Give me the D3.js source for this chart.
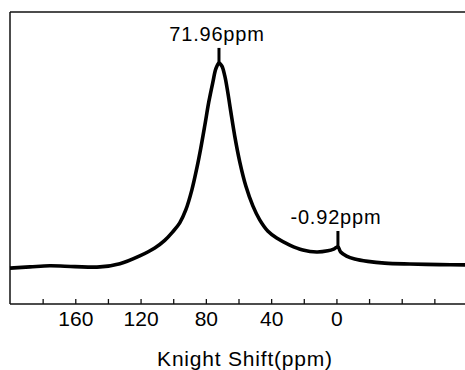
<!DOCTYPE html>
<html>
<head>
<meta charset="utf-8">
<script src="https://cdn.jsdelivr.net/npm/d3@7"></script>
<style>
  body { margin: 0; background: #fff; }
  svg { display: block; font-family: "Liberation Sans", Arial, sans-serif; }
</style>
</head>
<body>
<div id="vis"></div>
<script>
// Spectrum: Knight shift (ppm) and intensity (arbitrary units, 0-100)
var shift = [200, 187.8, 175.6, 160.2, 144.9, 132.7, 120.5, 111.3, 105.2, 100.3, 96.0, 92.3,
  88.6, 85.5, 83.1, 80.6, 78.2, 75.7, 73.9, 72.0, 70.2, 68.4, 66.6, 64.7, 62.3, 59.2, 55.5,
  51.2, 47.0, 42.1, 36.6, 28.6, 20.6, 12.1, 5.3, 1.7, -0.9, -2.6, -6.2, -11.2, -19.2, -29.6,
  -44.9, -63.3, -80];
var intensity = [12.3, 12.7, 13.1, 12.8, 12.7, 13.8, 16.5, 19.2, 21.8, 24.7, 27.8, 32.2,
  39.0, 46.6, 53.4, 61.3, 69.2, 76.0, 80.5, 82.5, 81.5, 78.1, 72.6, 65.8, 57.5, 48.6, 40.4,
  33.6, 28.8, 25.0, 22.6, 20.2, 18.5, 17.8, 18.2, 18.8, 19.6, 17.8, 16.4, 15.4, 14.6, 14.0,
  13.7, 13.5, 13.4];

// Peak annotations
var peakShift = [71.96, -0.92];
var peakBase = [82.5, 19.6];
var peakTop = [87.7, 25.0];
var peakLabels = ['71.96ppm', '-0.92ppm'];

// Axis ticks
var tickValues = [180, 160, 140, 120, 100, 80, 60, 40, 20, 0, -20, -40, -60];
var tickLabels = [160, 120, 80, 40, 0];

var width = 465;
var height = 370;
var margin = { top: 12, left: 10, bottom: 304 };

var svg = d3.select('#vis')
  .append('svg')
  .attr('width', width)
  .attr('height', height);

var xScale = d3.scaleLinear()
  .domain([200, -80])
  .range([margin.left, 467]);

var yScale = d3.scaleLinear()
  .domain([0, 100])
  .range([margin.bottom, margin.top]);

// frame: top and left edges
svg.append('line')
  .attr('x1', margin.left).attr('x2', width)
  .attr('y1', margin.top).attr('y2', margin.top)
  .attr('stroke', '#111').attr('stroke-width', 1.5);
svg.append('line')
  .attr('x1', margin.left).attr('x2', margin.left)
  .attr('y1', margin.top).attr('y2', margin.bottom)
  .attr('stroke', '#111').attr('stroke-width', 1.5);

// bottom axis, ticks pointing inward
var xAxis = d3.axisBottom(xScale)
  .tickValues(tickValues)
  .tickSizeInner(-5)
  .tickSizeOuter(0)
  .tickPadding(7)
  .tickFormat(function(d) { return tickLabels.indexOf(d) >= 0 ? d : ''; });

var gX = svg.append('g')
  .attr('transform', 'translate(0,' + margin.bottom + ')')
  .call(xAxis);
gX.select('.domain').remove();
gX.append('line')
  .attr('x1', margin.left).attr('x2', width)
  .attr('stroke', '#111').attr('stroke-width', 1.5);
gX.selectAll('.tick line').attr('stroke', '#111').attr('stroke-width', 1.3);
gX.selectAll('.tick text')
  .attr('fill', '#000')
  .style('font-size', '21px')
  .style('font-family', '"Liberation Sans", Arial, sans-serif');

// axis title
svg.append('text')
  .attr('x', 245)
  .attr('y', 366)
  .attr('text-anchor', 'middle')
  .style('font-size', '21px')
  .style('letter-spacing', '0.8px')
  .attr('fill', '#000')
  .text('Knight Shift(ppm)');

// spectrum
var data = shift.map(function(s, i) { return { s: s, v: intensity[i] }; });
var line = d3.line()
  .x(function(d) { return xScale(d.s); })
  .y(function(d) { return yScale(d.v); })
  .curve(d3.curveCatmullRom.alpha(0.5));

svg.append('path')
  .datum(data)
  .attr('d', line)
  .attr('fill', 'none')
  .attr('stroke', '#000')
  .attr('stroke-width', 3.6)
  .attr('stroke-linejoin', 'round');

// peak markers and labels
var peaks = peakShift.map(function(s, i) {
  return { s: s, base: peakBase[i], top: peakTop[i], label: peakLabels[i] };
});

svg.selectAll('.marker')
  .data(peaks)
  .enter()
  .append('line')
  .attr('class', 'marker')
  .attr('x1', function(d) { return xScale(d.s); })
  .attr('x2', function(d) { return xScale(d.s); })
  .attr('y1', function(d) { return yScale(d.top); })
  .attr('y2', function(d) { return yScale(d.base); })
  .attr('stroke', '#000')
  .attr('stroke-width', 3);

svg.selectAll('.peak-label')
  .data(peaks)
  .enter()
  .append('text')
  .attr('class', 'peak-label')
  .attr('x', function(d) { return xScale(d.s) - 2; })
  .attr('y', function(d) { return yScale(d.top) - 7; })
  .attr('text-anchor', 'middle')
  .style('font-size', '20px')
  .style('letter-spacing', '0.8px')
  .attr('fill', '#000')
  .text(function(d) { return d.label; });
</script>
</body>
</html>
